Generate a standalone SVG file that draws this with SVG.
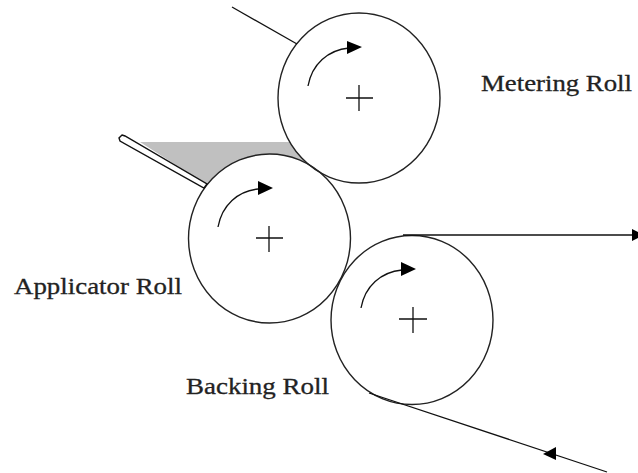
<svg xmlns="http://www.w3.org/2000/svg" width="638" height="473" viewBox="0 0 638 473">
<style>
.roll{fill:none;stroke:#222;stroke-width:1.4}
.thin{fill:none;stroke:#111;stroke-width:1.3}
.head{fill:#000;stroke:none}
text{font-family:"Liberation Serif",serif;font-size:23.500px;fill:#222;stroke:#222;stroke-width:.3}
</style>
<rect width="638" height="473" fill="#fff"/>
<path id="coating" d="M140,142H290A81,85 0 0 0 307,163.500A81,84.500 0 0 0 207,185Z" fill="#c0c0c0"/>
<g id="metering-roll">
<ellipse class="roll" cx="359" cy="98" rx="81" ry="85"/>
<path class="thin" d="M308,86C312,64 328,50 349,48"/><polygon class="head" points="347,41 362,47 347,54"/>
<path class="thin" d="M346,98H373M359,85V111"/>
<text x="481" y="91" textLength="151" lengthAdjust="spacingAndGlyphs">Metering Roll</text>
</g>
<g id="applicator-roll">
<ellipse class="roll" cx="269.500" cy="238.500" rx="81" ry="84.500"/>
<path class="thin" d="M218,227C222,205 238,191 258,189"/><polygon class="head" points="258,181 273,188 258,195"/>
<path class="thin" d="M256,238H283M269,226V252"/>
<text x="14" y="294" textLength="168" lengthAdjust="spacingAndGlyphs">Applicator Roll</text>
</g>
<g id="backing-roll">
<ellipse class="roll" cx="412" cy="320" rx="81" ry="84.500"/>
<path class="thin" d="M361,308C365,286 381,272 402,270"/><polygon class="head" points="401,262 416,269 401,276"/>
<path class="thin" d="M399,319H427M413,307V333"/>
<text x="186" y="394" textLength="143" lengthAdjust="spacingAndGlyphs">Backing Roll</text>
</g>
<g id="connectors">
<path class="thin" d="M232,7L297,44"/>
<polygon points="122,135 125,136 207,184 204,188 120,141 119,138" fill="#fff" stroke="#111" stroke-width="1.4"/>
<path class="thin" d="M403,235H632"/><polygon class="head" points="632,229 638,232 638,238 632,241"/>
<path class="thin" d="M369,393L607,472"/><polygon class="head" points="543,454 556,447 556,460"/>
</g>
</svg>
